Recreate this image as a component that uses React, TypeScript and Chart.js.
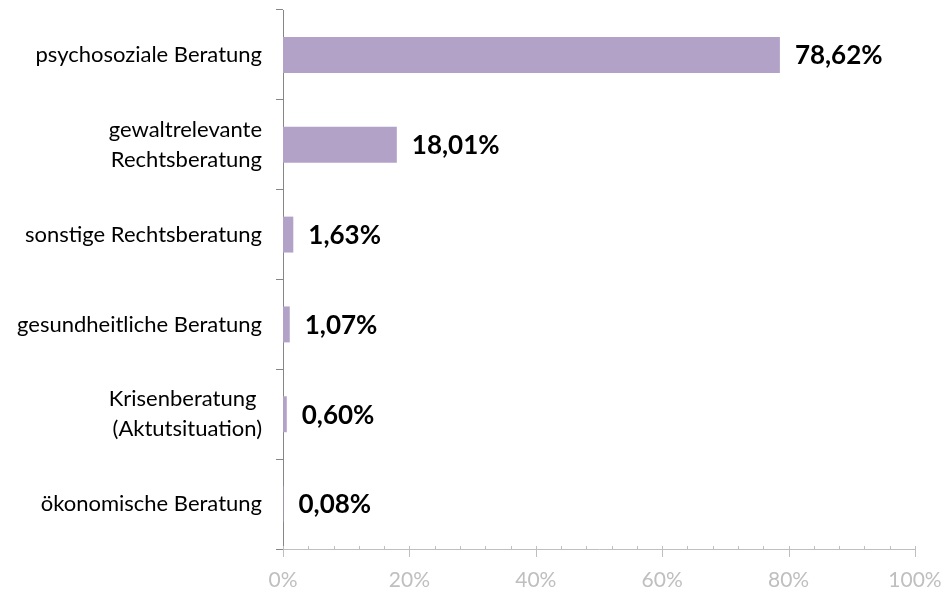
import React, { useEffect, useRef } from "react";
import { Chart, registerables } from "chart.js";

Chart.register(...registerables);

const categories: (string | string[])[] = [
  "psychosoziale Beratung",
  ["gewaltrelevante", "Rechtsberatung"],
  "sonstige Rechtsberatung",
  "gesundheitliche Beratung",
  ["Krisenberatung ", "(Aktutsituation)"],
  "ökonomische Beratung",
];
const values = [78.62, 18.01, 1.63, 1.07, 0.6, 0.08];
const valueLabels = ["78,62%", "18,01%", "1,63%", "1,07%", "0,60%", "0,08%"];
const xTickValues = [0, 20, 40, 60, 80, 100];
const minorStep = 4;

const FONT = "Lato, 'Open Sans', sans-serif";

const valueLabelPlugin = {
  id: "valueLabels",
  afterDatasetsDraw(chart: any) {
    const ctx = chart.ctx;
    const meta = chart.getDatasetMeta(0);
    ctx.save();
    ctx.font = `bold 26px ${FONT}`;
    ctx.fillStyle = "#000000";
    ctx.textAlign = "left";
    ctx.textBaseline = "middle";
    meta.data.forEach((bar: any, i: number) => {
      ctx.fillText(valueLabels[i], bar.x + 15, bar.y + 1);
    });
    ctx.restore();
  },
};

const xTicksPlugin = {
  id: "xMinorTicks",
  afterDraw(chart: any) {
    const ctx = chart.ctx;
    const x = chart.scales.x;
    const y0 = chart.chartArea.bottom;
    ctx.save();
    ctx.strokeStyle = "#bfbfbf";
    ctx.lineWidth = 1;
    for (let v = x.min; v <= x.max + 0.001; v += minorStep) {
      const px = Math.round(x.getPixelForValue(v)) + 0.5;
      const major = xTickValues.includes(v);
      ctx.beginPath();
      ctx.moveTo(px, y0 - 3);
      ctx.lineTo(px, major ? y0 + 8 : y0);
      ctx.stroke();
    }
    ctx.restore();
  },
};

export default function App() {
  const ref = useRef<HTMLCanvasElement | null>(null);
  useEffect(() => {
    if (!ref.current) return;
    const chart = new Chart(ref.current, {
      type: "bar",
      data: {
        labels: categories,
        datasets: [
          {
            data: values,
            backgroundColor: "#b3a2c7",
            borderWidth: 0,
            categoryPercentage: 0.4,
            barPercentage: 1,
          },
        ],
      },
      options: {
        indexAxis: "y",
        animation: false,
        responsive: false,
        devicePixelRatio: 1,
        layout: { padding: { top: 10, right: 27, bottom: 0, left: 0 } },
        plugins: { legend: { display: false }, tooltip: { enabled: false } },
        scales: {
          x: {
            min: 0,
            max: 100,
            afterBuildTicks: (scale: any) => {
              scale.ticks = xTickValues.map((v) => ({ value: v }));
            },
            grid: { display: false, drawTicks: false },
            border: { display: true, color: "#bfbfbf", width: 1 },
            ticks: {
              callback: (v: any) => `${v}%`,
              color: "#bfbfbf",
              font: { family: FONT, size: 21 },
              padding: 19,
              maxRotation: 0,
            },
            afterFit: (scale: any) => {
              scale.height = 42;
              scale.paddingLeft = 0;
              scale.paddingRight = 0;
            },
          },
          y: {
            offset: true,
            grid: {
              display: true,
              drawOnChartArea: false,
              offset: true,
              tickLength: 7,
              color: "#868686",
            },
            border: { display: true, color: "#868686", width: 1 },
            ticks: {
              color: "#000000",
              font: { family: FONT, size: 22, lineHeight: "30px" as any },
              padding: 14,
            },
            afterFit: (scale: any) => {
              scale.width = 283;
              scale.paddingTop = 0;
              scale.paddingBottom = 0;
            },
          },
        },
      },
      plugins: [valueLabelPlugin, xTicksPlugin],
    });
    return () => chart.destroy();
  }, []);
  return (
    <div style={{ position: "fixed", left: 0, top: 0, width: 942, height: 591, background: "#fff" }}>
      <canvas ref={ref} width={942} height={591} style={{ width: 942, height: 591 }} />
    </div>
  );
}
